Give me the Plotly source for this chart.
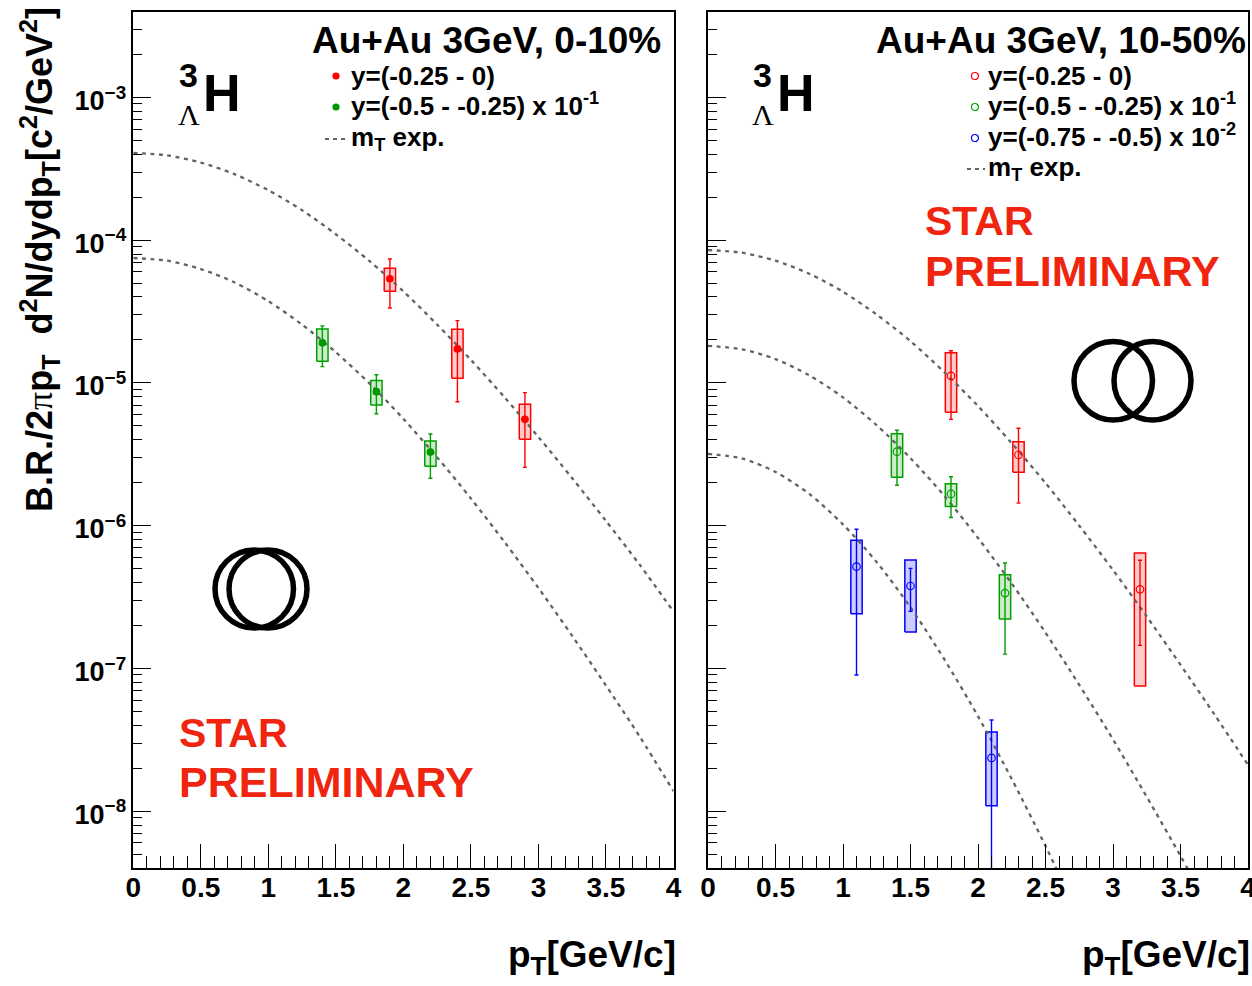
import plotly.graph_objects as go

W, H = 1252, 986
FONT = "Liberation Sans"
RED, GREEN, BLUE = "#ff0000", "#00a000", "#0000ff"
GREEN_DOT = "#009600"
TEXT_RED = "#ef2510"

# ---- left panel, 0-10 % ----
L_red_pt = [1.9, 2.4, 2.9]
L_red_y = [5.37e-5, 1.73e-5, 5.56e-6]
L_red_hi = [7.38e-5, 2.73e-5, 8.55e-6]
L_red_lo = [3.35e-5, 7.39e-6, 2.56e-6]
L_red_sys_hi = [6.35e-5, 2.38e-5, 7.08e-6]
L_red_sys_lo = [4.39e-5, 1.08e-5, 4.03e-6]

L_green_pt = [1.4, 1.8, 2.2]
L_green_y = [1.91e-5, 8.69e-6, 3.28e-6]
L_green_hi = [2.51e-5, 1.14e-5, 4.39e-6]
L_green_lo = [1.30e-5, 6.09e-6, 2.15e-6]
L_green_sys_hi = [2.39e-5, 1.04e-5, 3.92e-6]
L_green_sys_lo = [1.42e-5, 7.00e-6, 2.61e-6]

# ---- right panel, 10-50 % ----
R_red_pt = [1.8, 2.3, 3.2]
R_red_y = [1.12e-5, 3.13e-6, 3.58e-7]
R_red_hi = [1.68e-5, 4.81e-6, 5.73e-7]
R_red_lo = [5.56e-6, 1.44e-6, 1.45e-7]
R_red_sys_hi = [1.63e-5, 3.87e-6, 6.44e-7]
R_red_sys_lo = [6.22e-6, 2.37e-6, 7.53e-8]

R_green_pt = [1.4, 1.8, 2.2]
R_green_y = [3.30e-6, 1.67e-6, 3.37e-7]
R_green_hi = [4.66e-6, 2.20e-6, 5.48e-7]
R_green_lo = [1.92e-6, 1.14e-6, 1.26e-7]
R_green_sys_hi = [4.41e-6, 1.97e-6, 4.54e-7]
R_green_sys_lo = [2.18e-6, 1.36e-6, 2.22e-7]

R_blue_pt = [1.1, 1.5, 2.1]
R_blue_y = [5.16e-7, 3.78e-7, 2.36e-8]
R_blue_hi = [9.44e-7, 5.02e-7, 4.35e-8]
R_blue_lo = [9.0e-8, 2.51e-7, 1.0e-9]
R_blue_sys_hi = [7.91e-7, 5.75e-7, 3.59e-8]
R_blue_sys_lo = [2.42e-7, 1.80e-7, 1.09e-8]

# ---- dashed mT curves ----
curve_pt = [0, .25, .5, .75, 1, 1.25, 1.5, 1.75, 2, 2.25, 2.5, 2.75, 3, 3.25, 3.5, 3.75, 4]
L_curve_top = [4.08e-4, 3.93e-4, 3.50e-4, 2.90e-4, 2.24e-4, 1.62e-4, 1.10e-4, 7.13e-5, 4.38e-5,
               2.56e-5, 1.45e-5, 7.91e-6, 4.18e-6, 2.15e-6, 1.08e-6, 5.32e-7, 2.50e-7]
L_curve_low = [7.50e-5, 7.18e-5, 6.28e-5, 5.06e-5, 3.74e-5, 2.56e-5, 1.64e-5, 9.89e-6, 5.60e-6,
               3.01e-6, 1.55e-6, 7.66e-7, 3.66e-7, 1.69e-7, 7.59e-8, 3.33e-8, 1.38e-8]
R_curve_top = [8.53e-5, 8.17e-5, 7.18e-5, 5.82e-5, 4.35e-5, 3.01e-5, 1.96e-5, 1.19e-5, 6.89e-6,
               3.78e-6, 1.99e-6, 1.00e-6, 4.89e-7, 2.31e-7, 1.06e-7, 4.78e-8, 2.11e-8]
R_curve_mid = [1.82e-5, 1.72e-5, 1.47e-5, 1.13e-5, 7.92e-6, 5.05e-6, 2.97e-6, 1.62e-6, 8.20e-7,
               3.93e-7, 1.78e-7, 7.67e-8, 3.18e-8, 1.26e-8, 4.86e-9, 1.82e-9]
R_curve_low = [3.18e-6, 2.96e-6, 2.38e-6, 1.67e-6, 1.02e-6, 5.55e-7, 2.68e-7, 1.16e-7, 4.62e-8,
               1.68e-8, 5.70e-9, 1.81e-9]

x_ticks = [0, 0.5, 1, 1.5, 2, 2.5, 3, 3.5, 4]
x_tick_labels = ["0", "0.5", "1", "1.5", "2", "2.5", "3", "3.5", "4"]
y_decades = [-8, -7, -6, -5, -4, -3]
BOX_HALF = 0.042
BOX_FILL = {RED: "rgba(255,0,0,0.2)", GREEN: "rgba(0,160,0,0.2)", BLUE: "rgba(0,0,255,0.2)"}


def fx(px):
    return px / W


def fy(py):
    return 1 - py / H


fig = go.Figure()


def add_boxes(axis, pt, s_hi, s_lo, color):
    xa, ya = axis
    for x, a, b_ in zip(pt, s_lo, s_hi):
        fig.add_trace(go.Scatter(
            x=[x - BOX_HALF, x + BOX_HALF, x + BOX_HALF, x - BOX_HALF, x - BOX_HALF],
            y=[a, a, b_, b_, a], xaxis=xa, yaxis=ya, mode="lines", fill="toself",
            fillcolor=BOX_FILL[color], line=dict(color=color, width=1.5),
            showlegend=False, hoverinfo="skip"))


def add_points(axis, pt, val, hi, lo, color, filled, dot=None):
    xa, ya = axis
    fig.add_trace(go.Scatter(
        x=pt, y=val, xaxis=xa, yaxis=ya, mode="markers",
        error_y=dict(type="data", symmetric=False,
                     array=[h - v for h, v in zip(hi, val)],
                     arrayminus=[v - l for v, l in zip(val, lo)],
                     color=color, thickness=1.4, width=2),
        marker=dict(size=6.5 if filled else 7.5,
                    symbol="circle" if filled else "circle-open",
                    color=dot or color, line=dict(width=1.2, color=dot or color)),
        showlegend=False, hoverinfo="skip"))


def add_curve(axis, yvals):
    xa, ya = axis
    fig.add_trace(go.Scatter(
        x=curve_pt[:len(yvals)], y=yvals, xaxis=xa, yaxis=ya, mode="lines",
        line=dict(color="#636363", width=2.3, dash="4px,4.5px", shape="spline", smoothing=0.8),
        showlegend=False, hoverinfo="skip"))


LEFT, RIGHT = ("x", "y"), ("x2", "y2")
add_boxes(LEFT, L_red_pt, L_red_sys_hi, L_red_sys_lo, RED)
add_boxes(LEFT, L_green_pt, L_green_sys_hi, L_green_sys_lo, GREEN)
add_boxes(RIGHT, R_red_pt, R_red_sys_hi, R_red_sys_lo, RED)
add_boxes(RIGHT, R_green_pt, R_green_sys_hi, R_green_sys_lo, GREEN)
add_boxes(RIGHT, R_blue_pt, R_blue_sys_hi, R_blue_sys_lo, BLUE)

add_curve(LEFT, L_curve_top)
add_curve(LEFT, L_curve_low)
add_curve(RIGHT, R_curve_top)
add_curve(RIGHT, R_curve_mid)
add_curve(RIGHT, R_curve_low)

add_points(LEFT, L_red_pt, L_red_y, L_red_hi, L_red_lo, RED, True)
add_points(LEFT, L_green_pt, L_green_y, L_green_hi, L_green_lo, GREEN, True, GREEN_DOT)
add_points(RIGHT, R_red_pt, R_red_y, R_red_hi, R_red_lo, RED, False)
add_points(RIGHT, R_green_pt, R_green_y, R_green_hi, R_green_lo, GREEN, False)
add_points(RIGHT, R_blue_pt, R_blue_y, R_blue_hi, R_blue_lo, BLUE, False)

ann = []


def txt(px, py, text, size, color="#000000", anchor="left", family=FONT, angle=0):
    ann.append(dict(x=fx(px), y=fy(py), xref="paper", yref="paper", text=text, showarrow=False,
                    xanchor=anchor, yanchor="middle", textangle=angle,
                    font=dict(family=family, size=size, color=color)))


def b(s):
    return "<b>" + s + "</b>"


shapes = []


def ring(cx0, cx1, cy0, cy1):
    shapes.append(dict(type="circle", xref="paper", yref="paper", x0=fx(cx0), x1=fx(cx1),
                       y0=fy(cy0), y1=fy(cy1), line=dict(color="black", width=5.5)))


def legdot(px, py, color, filled):
    r = 3 if filled else 3.5
    shapes.append(dict(type="circle", xref="paper", yref="paper", x0=fx(px - r), x1=fx(px + r),
                       y0=fy(py - r), y1=fy(py + r),
                       fillcolor=color if filled else "rgba(0,0,0,0)",
                       line=dict(color=color, width=1.2)))


def legdash(px0, px1, py):
    shapes.append(dict(type="line", xref="paper", yref="paper", x0=fx(px0), x1=fx(px1),
                       y0=fy(py), y1=fy(py), line=dict(color="#636363", width=2, dash="4px,4px")))


# rings (collision overlap sketch)
ring(215, 293.5, 550, 628)
ring(229, 307, 550, 628)
ring(1074, 1152.5, 341.5, 420)
ring(1114, 1191, 341.5, 420)

# headings
txt(310, 41, b("Au+Au 3GeV, 0-10%"), 37)
txt(874, 41, b("Au+Au 3GeV, 10-50%"), 37)

# 3/Lambda H labels
for x0 in (0, 574):
    txt(177 + x0, 75, b("3"), 34)
    txt(176 + x0, 115, "Λ", 30, family="Liberation Serif")
    txt(201 + x0, 93, b("H"), 52)

# legends
legdot(336, 76, RED, True)
legdot(336, 107, GREEN_DOT, True)
legdash(325, 347, 139)
txt(349, 76, b("y=(-0.25 - 0)"), 26)
txt(349, 105, b("y=(-0.5 - -0.25) x 10<sup>-1</sup>"), 26)
txt(349, 139, b("m<sub>T</sub> exp."), 26)

legdot(975, 76, RED, False)
legdot(975, 107, GREEN, False)
legdot(975, 138, BLUE, False)
legdash(967, 985, 169)
txt(986, 76, b("y=(-0.25 - 0)"), 26)
txt(986, 105, b("y=(-0.5 - -0.25) x 10<sup>-1</sup>"), 26)
txt(986, 135, b("y=(-0.75 - -0.5) x 10<sup>-2</sup>"), 26)
txt(986, 169, b("m<sub>T</sub> exp."), 26)

# STAR PRELIMINARY
txt(177, 733, b("STAR"), 41, TEXT_RED)
txt(177, 782, b("PRELIMINARY"), 43, TEXT_RED)
txt(923, 221, b("STAR"), 41, TEXT_RED)
txt(923, 271, b("PRELIMINARY"), 43, TEXT_RED)

# axis titles
txt(678, 957, b("p<sub>T</sub>[GeV/c]"), 37, anchor="right")
txt(1252, 957, b("p<sub>T</sub>[GeV/c]"), 37, anchor="right")
ytitle = ("<b>B.R./2</b><span style=\"font-family:'Liberation Serif'\">π</span><b>p<sub>T</sub>"
          "  d<sup>2</sup>N/dydp<sub>T</sub>[c<sup>2</sup>/GeV<sup>2</sup>]</b>")
txt(39, 260, ytitle, 36, anchor="center", angle=-90)

minor_vals = [m * 10.0 ** d for d in range(-9, -2) for m in range(2, 10)]
maj_vals = [10.0 ** d for d in y_decades]
maj_text = ["<b>10<sup>\u2212%d</sup></b>" % (-d) for d in y_decades]

xbase = dict(range=[0, 4], tickmode="array", tickvals=x_ticks,
             ticktext=["<b>%s</b>" % t for t in x_tick_labels],
             ticks="inside", ticklen=24, tickwidth=1.2, tickcolor="black",
             showline=True, linecolor="black", linewidth=1.5, mirror=True,
             showgrid=False, zeroline=False,
             tickfont=dict(family=FONT, size=28, color="black"), ticklabelstandoff=-6,
             ticklabeloverflow="allow",
             minor=dict(ticks="inside", ticklen=12, tickwidth=1.2, tickcolor="black",
                        dtick=0.1, tick0=0, showgrid=False))
ybase = dict(type="log", range=[-8.398, -2.398], tickmode="array", tickvals=maj_vals,
             ticks="inside", ticklen=18, tickwidth=1.2, tickcolor="black",
             showline=True, linecolor="black", linewidth=1.5, mirror=True,
             showgrid=False, zeroline=False,
             tickfont=dict(family=FONT, size=27, color="black"), ticklabelshift=3,
             minor=dict(ticks="inside", ticklen=9, tickwidth=1.2, tickcolor="black",
                        tickmode="array", tickvals=minor_vals, showgrid=False),
             domain=[fy(868), fy(11.5)])

fig.update_layout(
    width=W, height=H, autosize=False,
    margin=dict(l=0, r=0, t=0, b=0, autoexpand=False),
    paper_bgcolor="white", plot_bgcolor="white", showlegend=False,
    annotations=ann, shapes=shapes,
    xaxis={**xbase, "domain": [fx(133.3), fx(673.5)], "anchor": "y"},
    yaxis={**ybase, "anchor": "x", "ticktext": maj_text},
    xaxis2={**xbase, "domain": [fx(708), fx(1248)], "anchor": "y2"},
    yaxis2={**ybase, "anchor": "x2", "ticktext": ["" for _ in maj_vals]},
)

fig.write_html("out.html", post_script="document.body.style.margin='0';",
               config={"displayModeBar": False})
